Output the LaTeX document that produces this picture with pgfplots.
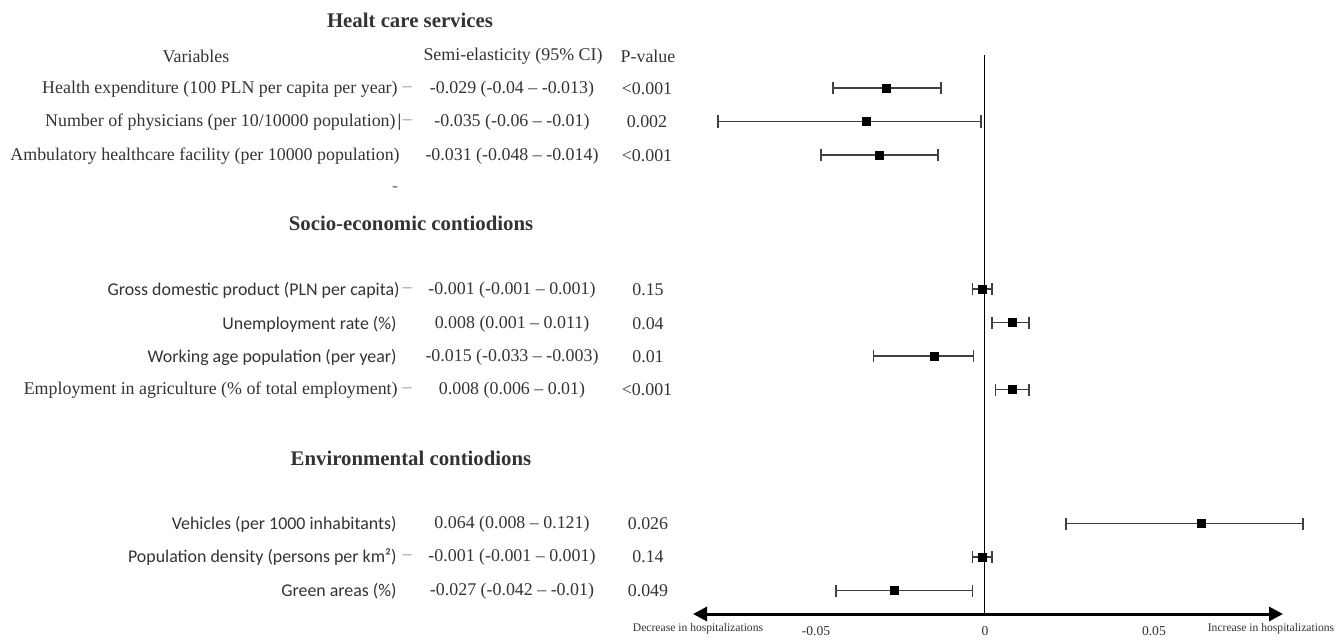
\documentclass[border=0pt]{standalone}
\usepackage{pgfplots}
\pgfplotsset{compat=1.18}
\usepackage{pgfplotstable}
\usepackage{fontspec}
\setmainfont{Liberation Serif}
\newfontfamily\calib{Carlito}
\usetikzlibrary{arrows.meta}
\definecolor{txt}{HTML}{333333}

% est = drawn estimate, row = row position (bottom = 0), lo/hi = drawn CI bounds
\pgfplotstableread{
est     row  lo       hi
-0.0293 15  -0.0450  -0.0130
-0.0352 14  -0.0790  -0.0012
-0.0311 13  -0.0485  -0.0139
-0.0009 9   -0.0038   0.0021
0.0080  8    0.0021   0.0130
-0.0151 7   -0.0331  -0.0033
0.0080  6    0.0030   0.0130
0.0639  2    0.0240   0.0941
-0.0009 1   -0.0038   0.0021
-0.0269 0   -0.0441  -0.0036
}\forestdata

\newcommand\rt{\fontsize{8.95}{10.5}\selectfont}
\newcommand\hd{\fontsize{10.4}{12}\selectfont\bfseries}

\begin{document}
\begin{tikzpicture}
\useasboundingbox (0,0) rectangle (669pt,-320.5pt);
\begin{axis}[
  at={(346.5pt,-307pt)}, anchor=south west,
  scale only axis, width=295pt, height=279.5pt,
  xmin=-0.0864, xmax=0.0882,
  ymin=-0.70, ymax=15.985,
  axis x line*=bottom, axis y line=none,
  x axis line style={line width=1.5pt, {Triangle[length=7pt,width=7pt]}-{Triangle[length=7pt,width=7pt]}},
  xtick={-0.05,0,0.05}, xticklabels={-0.05,0,0.05},
  major tick length=0pt,
  xticklabel style={font=\fontsize{6.8}{8}\selectfont, text=txt, yshift=-2.5pt},
  clip=false,
]
\addplot[black, line width=0.5pt] coordinates {(0,-0.70) (0,15.985)};
\addplot[only marks, mark=square*, mark size=2pt, black,
  error bars/.cd, x dir=both, x explicit,
  error bar style={black!75, line width=0.6pt},
  error mark=|, error mark options={black!75, mark size=3pt, line width=0.6pt}]
  table[x=est, y=row,
        x error plus expr=\thisrow{hi}-\thisrow{est},
        x error minus expr=\thisrow{est}-\thisrow{lo}] {\forestdata};
\end{axis}

\begin{scope}[x=0.5pt, y=-0.5pt, every node/.style={text=txt, inner sep=0pt}]
\node at (410,20) {\hd Healt care services};
\node at (411,223) {\hd Socio-economic contiodions};
\node at (411,458) {\hd Environmental contiodions};

\node at (196,56) {\rt Variables};
\node at (513,56) {\rt Semi-elasticity (95\% CI)};
\node at (648,56) {\rt P-value};

% labels
\node[anchor=east] at (398,89) {\rt Health expenditure (100 PLN per capita per year)};
\node[anchor=east] at (396,122) {\rt Number of physicians (per 10/10000 population)};
\node[anchor=east] at (400,156) {\rt Ambulatory healthcare facility (per 10000 population)};
\node[anchor=east] at (400,290) {\rt\calib Gross domestic product (PLN per capita)};
\node[anchor=east] at (397,324) {\rt\calib Unemployment rate (\%)};
\node[anchor=east] at (397,357) {\rt\calib Working age population (per year)};
\node[anchor=east] at (398,390) {\rt Employment in agriculture (\% of total employment)};
\node[anchor=east] at (397,524) {\rt\calib Vehicles (per 1000 inhabitants)};
\node[anchor=east] at (397,557) {\rt\calib Population density (persons per km²)};
\node[anchor=east] at (397,591) {\rt\calib Green areas (\%)};

% small tick dashes
\foreach \yy in {89,122,290,390,557}{\node[text=black!45] at (407,\yy) {\rt –};}
\node[text=black] at (399.5,122) {\rt |};
\node[text=black!60] at (395,189) {\rt -};

% estimates
\node at (512,89) {\rt -0.029 (-0.04 – -0.013)};
\node at (512,122) {\rt -0.035 (-0.06 – -0.01)};
\node at (512,156) {\rt -0.031 (-0.048 – -0.014)};
\node at (512,290) {\rt -0.001 (-0.001 – 0.001)};
\node at (512,324) {\rt 0.008 (0.001 – 0.011)};
\node at (512,357) {\rt -0.015 (-0.033 – -0.003)};
\node at (512,390) {\rt 0.008 (0.006 – 0.01)};
\node at (512,524) {\rt 0.064 (0.008 – 0.121)};
\node at (512,557) {\rt -0.001 (-0.001 – 0.001)};
\node at (512,591) {\rt -0.027 (-0.042 – -0.01)};

% p-values
\node at (647,89) {\rt <0.001};
\node at (647,122) {\rt 0.002};
\node at (647,156) {\rt <0.001};
\node at (648,290) {\rt 0.15};
\node at (648,324) {\rt 0.04};
\node at (648,357) {\rt 0.01};
\node at (647,390) {\rt <0.001};
\node at (648,524) {\rt 0.026};
\node at (648,557) {\rt 0.14};
\node at (648,591) {\rt 0.049};

\node at (698,629) {\fontsize{5.8}{7}\selectfont Decrease in hospitalizations};
\node at (1271,629) {\fontsize{5.8}{7}\selectfont Increase in hospitalizations};
\end{scope}
\end{tikzpicture}
\end{document}
